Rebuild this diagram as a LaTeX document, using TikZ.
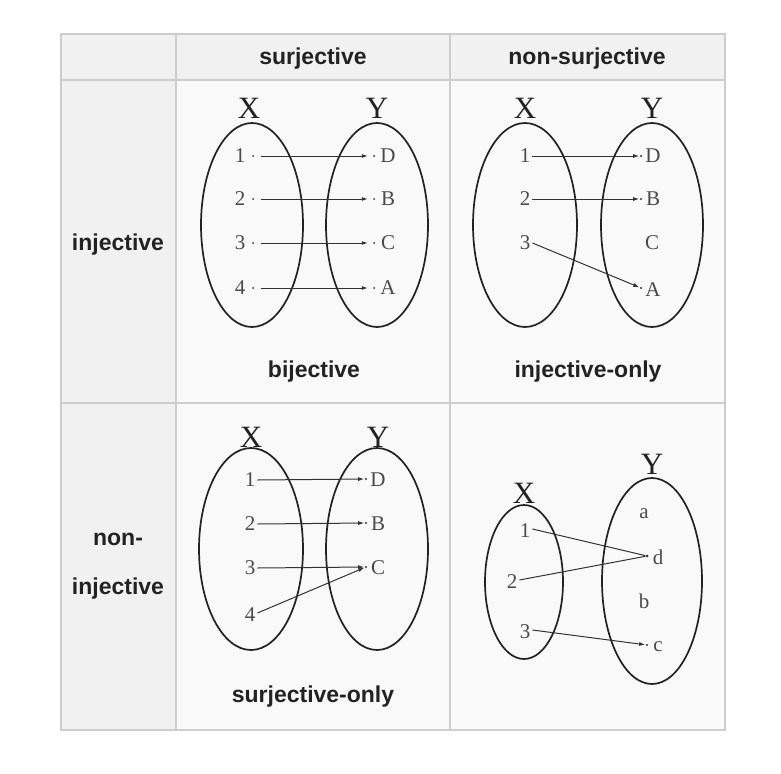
\documentclass[tikz,border=0pt]{standalone}
\usepackage{fontspec}
\setmainfont{Liberation Serif}
\newfontfamily\labelfont{Liberation Sans}
\usetikzlibrary{arrows.meta}

\definecolor{pagebg}{HTML}{FFFFFF}
\definecolor{headbg}{HTML}{F1F1F1}
\definecolor{cellbg}{HTML}{F9F9F9}
\definecolor{gridc}{HTML}{CDCDCD}
\definecolor{ink}{HTML}{222222}
\definecolor{elem}{HTML}{4A4A4A}
\definecolor{wire}{HTML}{333333}

\tikzset{
  grid/.style={draw=gridc, line width=1.2pt},
  head/.style={font=\labelfont\bfseries\fontsize{23}{27}\selectfont, text=ink, inner sep=0pt},
  caption/.style={font=\labelfont\bfseries\fontsize{23}{27}\selectfont, text=ink, inner sep=0pt},
  setname/.style={font=\fontsize{31}{33}\selectfont, text=ink, inner sep=0pt},
  elt/.style={font=\fontsize{21}{24}\selectfont, text=elem, inner sep=0pt},
  dotn/.style={circle, fill=wire, minimum size=2.2pt, inner sep=0pt},
  bag/.style={draw=ink, line width=1.7pt},
  arr/.style={draw=wire, line width=1pt, -{Latex[length=6pt,width=4pt]}},
  wireline/.style={draw=wire, line width=1pt},
}

\begin{document}
\begin{tikzpicture}[x=1pt, y=-1pt]
\useasboundingbox (0,0) rectangle (781,773);
\fill[pagebg] (0,0) rectangle (781,773);

% table cells
\fill[cellbg] (176,80) rectangle (725,730);
\fill[headbg] (61,34) rectangle (725,80);
\fill[headbg] (61,80) rectangle (176,730);
\draw[grid] (61,34) rectangle (725,730);
\draw[grid] (176,34) -- (176,730);
\draw[grid] (450,34) -- (450,730);
\draw[grid] (61,80) -- (725,80);
\draw[grid] (61,403) -- (725,403);

% headings
\node[head] (hsur) at (313,59) {surjective};
\node[head] (hnon) at (587,59) {non-surjective};
\node[head] (rinj) at (118,245) {injective};
\node[head, align=center, font=\labelfont\bfseries\fontsize{23}{49}\selectfont] (rnon) at (118,566) {non-\\injective};

% ---------- bijective ----------
\draw[bag] (252,225) ellipse [x radius=51, y radius=102];
\draw[bag] (377,225) ellipse [x radius=51, y radius=102];
\node[setname] (bX) at (249,108) {X};
\node[setname] (bY) at (377,108) {Y};
\foreach \n/\l/\y in {1/D/156, 2/B/199, 3/C/243, 4/A/288}{
  \node[elt] (bx\n) at (240,\y) {\n};
  \node[elt] (by\n) at (388,\y) {\l};
  \node[dotn, minimum size=2pt] (bxd\n) at (253,\y) {};
  \node[dotn, minimum size=2pt] (byd\n) at (374,\y) {};
  \draw[arr, shorten <=7pt, shorten >=5pt] (bxd\n) -- (byd\n);
}
\node[caption] (cbij) at (314,372) {bijective};

% ---------- injective-only ----------
\draw[bag] (525,225) ellipse [x radius=52, y radius=102];
\draw[bag] (652,225) ellipse [x radius=51, y radius=102];
\node[setname] (iX) at (525,108) {X};
\node[setname] (iY) at (652,108) {Y};
\node[elt] (ix1) at (525,156) {1};
\node[elt] (ix2) at (525,199) {2};
\node[elt] (ix3) at (525,243) {3};
\node[elt] (iy1) at (653,156) {D};
\node[elt] (iy2) at (653,199) {B};
\node[elt] (iy3) at (652,243) {C};
\node[elt] (iy4) at (653,290) {A};
\node[dotn] (iyd1) at (641,156) {};
\node[dotn] (iyd2) at (641,199) {};
\node[dotn] (iyd4) at (641,288) {};
\draw[arr, shorten >=0.5pt] (ix1.east) ++(2,0) coordinate (is1) (is1) -- (iyd1);
\draw[arr, shorten >=0.5pt] (ix2.east) ++(2,0) coordinate (is2) (is2) -- (iyd2);
\draw[arr, shorten >=0.5pt] (ix3.east) ++(2,0) coordinate (is3) (is3) -- (iyd4);
\node[caption] (cinj) at (588,372) {injective-only};

% ---------- surjective-only ----------
\draw[bag] (251,549) ellipse [x radius=52, y radius=101];
\draw[bag] (377,549) ellipse [x radius=51, y radius=101];
\node[setname] (sX) at (251,437) {X};
\node[setname] (sY) at (378,437) {Y};
\node[elt] (sx1) at (250,480) {1};
\node[elt] (sx2) at (250,524) {2};
\node[elt] (sx3) at (250,568) {3};
\node[elt] (sx4) at (250,615) {4};
\node[elt] (sy1) at (378,480) {D};
\node[elt] (sy2) at (378,524) {B};
\node[elt] (sy3) at (378,568) {C};
\node[dotn] (syd1) at (366,479) {};
\node[dotn] (syd2) at (366,523) {};
\node[dotn] (syd3) at (366,567) {};
\draw[arr, shorten >=0.5pt] (sx1.east) ++(2,0) coordinate (ss1) (ss1) -- (syd1);
\draw[arr, shorten >=0.5pt] (sx2.east) ++(2,0) coordinate (ss2) (ss2) -- (syd2);
\draw[arr, shorten >=0.5pt] (sx3.east) ++(2,0) coordinate (ss3) (ss3) -- (syd3);
\draw[arr, shorten >=0.5pt] (sx4.east) ++(2,-2) coordinate (ss4) (ss4) -- (syd3);
\node[caption] (csur) at (313,697) {surjective-only};

% ---------- neither ----------
\draw[bag] (524,582) ellipse [x radius=39, y radius=77];
\draw[bag] (652,581) ellipse [x radius=50, y radius=103];
\node[setname] (nX) at (524,493) {X};
\node[setname] (nY) at (652,464) {Y};
\node[elt] (nx1) at (525,531) {1};
\node[elt] (nx2) at (512,582) {2};
\node[elt] (nx3) at (525,632) {3};
\node[elt] (nya) at (644,514) {a};
\node[elt] (nyd) at (658,557) {d};
\node[elt] (nyb) at (644,601) {b};
\node[elt] (nyc) at (658,647) {c};
\node[dotn, minimum size=3pt] (nydd) at (647,556) {};
\node[dotn] (nycd) at (647,645) {};
\draw[wireline] (nx1.east) ++(2,-2) coordinate (ns1) (ns1) -- (nydd);
\draw[wireline] (nx2.east) ++(2,-2) coordinate (ns2) (ns2) -- (nydd);
\draw[arr, shorten >=0.5pt] (nx3.east) ++(2,-2) coordinate (ns3) (ns3) -- (nycd);
\end{tikzpicture}
\end{document}
